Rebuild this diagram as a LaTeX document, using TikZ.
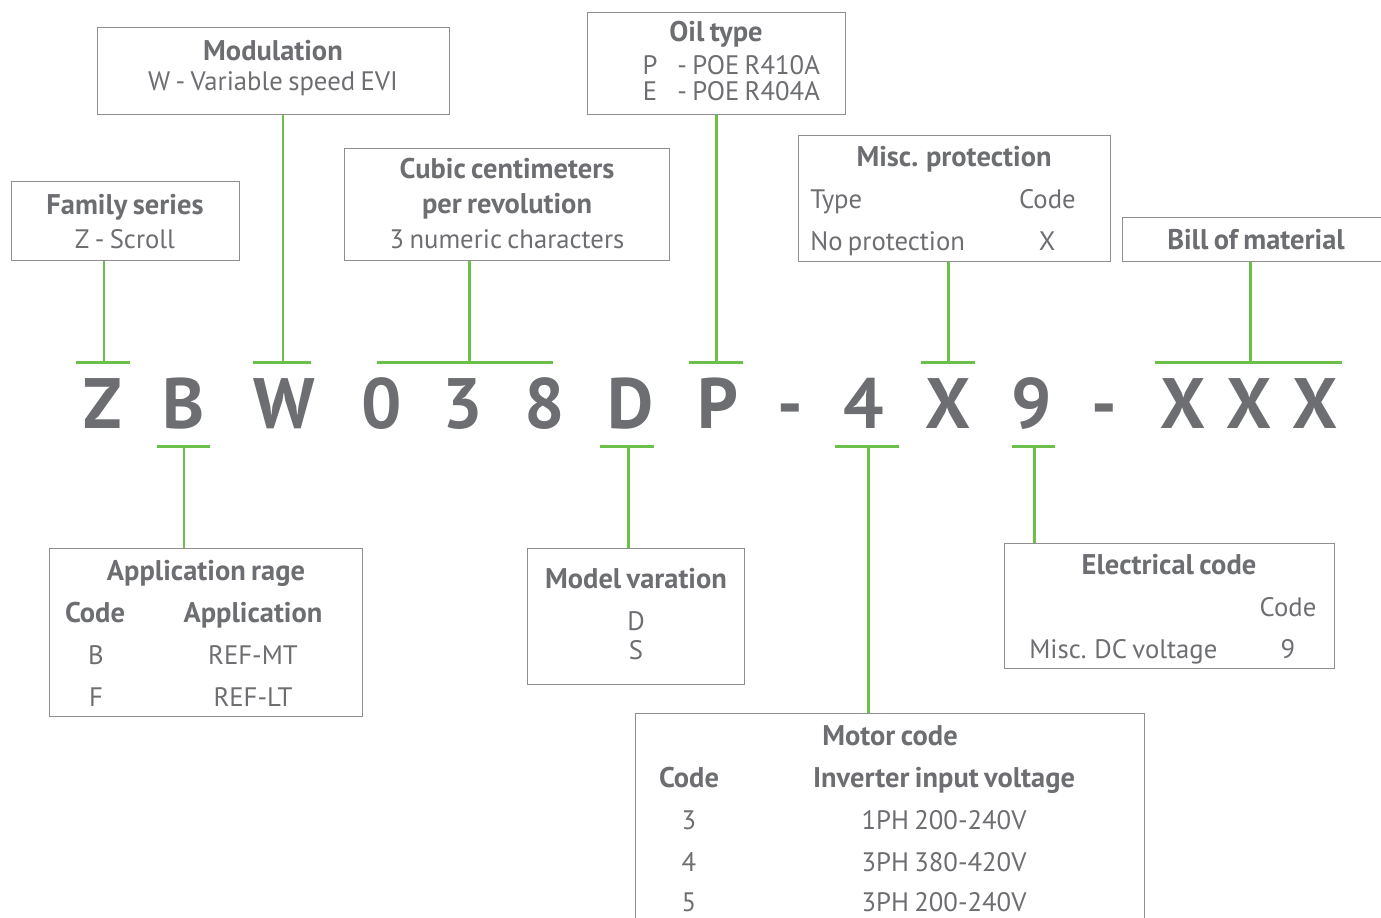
\documentclass[tikz,border=0pt]{standalone}
\usepackage{fontspec}
\setmainfont{PT Sans}[WordSpace=0.75]
\definecolor{txtgray}{HTML}{6D6E71}
\definecolor{lgreen}{HTML}{6CC04A}
\definecolor{boxgray}{HTML}{8E8E8E}
\newcommand{\hd}{\fontsize{16.2}{18}\bfseries\selectfont}
\newcommand{\rg}{\fontsize{15.2}{17}\selectfont}
\begin{document}
\begin{tikzpicture}[x=0.02cm,y=-0.02cm,font=\rg,text=txtgray]
	\tikzset{box/.style={draw=boxgray,line width=0.8pt,anchor=north west,inner sep=0pt},
		link/.style={draw=lgreen,line width=1.7pt},
		big/.style={font=\fontsize{40.6}{41}\bfseries\selectfont,anchor=base},
		head/.style={font=\hd,anchor=base,inner xsep=0pt},
		txt/.style={anchor=base,inner xsep=0pt}
	}
	\useasboundingbox (0,0) rectangle (1381,917);
	\clip (0,0) rectangle (1381,917);
	% code letters
	\foreach \nm/\x/\t in {cZ/103/Z,cB/184/B,cW/284/W,c0/382/0,c3/463/3,c8/545/8,cD/631/D,cP/718/P,
		dA/790/-,c4/864/4,cX/948/X,c9/1032/9,dB/1104/-,cXa/1183/X,cXb/1249/X,cXc/1315/X}
		\node[big] (\nm) at (\x,428) {\t};
	% boxes
	\foreach \nm/\x/\y/\w/\h in {fam/11/181/228/79,mod/97/27/352/87,cub/344/148/325/112,
		oil/587/12/258/102,misc/798/135/312/126,bom/1122/217/270/44,app/49/548/313/168,
		mdl/527/548/217/136,ele/1004/543/330/125,mot/635/713/509/220}
		\node[box,minimum width=\w*0.02cm,minimum height=\h*0.02cm] (\nm) at (\x,\y) {};
	% connectors
	\foreach \bx/\a/\b/\j in {fam/76/130/104,mod/253/311/283,cub/377/553/469,
		oil/689/743/716,misc/921/975/948,bom/1155/1342/1250}{
		\coordinate (j) at (\j,362);
		\draw[link] (\a,362) -- (\b,362) (j) -- (j |- \bx.south);
	}
	\foreach \bx/\a/\b/\j in {app/157/210/184,mdl/600/654/628,mot/835/899/868,ele/1012/1055/1034}{
		\coordinate (j) at (\j,446);
		\draw[link] (\a,446) -- (\b,446) (j) -- (j |- \bx.north);
	}
	% texts
	\node[head] (famT) at (125,214) {Family series};
	\node[txt] (famA) at (125,248) {Z - Scroll};
	\node[head] (modT) at (273,60) {Modulation};
	\node[txt] (modA) at (273,90) {W - Variable speed EVI};
	\node[head] (cubT) at (507,178) {Cubic centimeters};
	\node[head] (cubU) at (507,213) {per revolution};
	\node[txt] (cubA) at (507,248) {3 numeric characters};
	\node[head] (oilT) at (716,41) {Oil type};
	\node[txt] (oilP) at (650,74) {P};
	\node[txt,anchor=base west] (oilPa) at (677,74) {- POE R410A};
	\node[txt] (oilE) at (650,100) {E};
	\node[txt,anchor=base west] (oilEa) at (677,100) {- POE R404A};
	\node[head] (miscT) at (954,166) {Misc. protection};
	\node[txt,anchor=base west] (miscA) at (810,208) {Type};
	\node[txt,anchor=base east] (miscB) at (1076,208) {Code};
	\node[txt,anchor=base west] (miscC) at (810,250) {No protection};
	\node[txt] (miscD) at (1047,250) {X};
	\node[head] (bomT) at (1256,249) {Bill of material};
	\node[head] (appT) at (206,580) {Application rage};
	\node[head] (appA) at (95,622) {Code};
	\node[head] (appB) at (253,622) {Application};
	\node[txt] (appC) at (96,664) {B};
	\node[txt] (appD) at (253,664) {REF-MT};
	\node[txt] (appE) at (96,706) {F};
	\node[txt] (appF) at (253,706) {REF-LT};
	\node[head] (mdlT) at (636,588) {Model varation};
	\node[txt] (mdlA) at (636,630) {D};
	\node[txt] (mdlB) at (636,659) {S};
	\node[head] (eleT) at (1169,574) {Electrical code};
	\node[txt] (eleA) at (1288,616) {Code};
	\node[txt,anchor=base west] (eleB) at (1029,658) {Misc. DC voltage};
	\node[txt] (eleC) at (1288,658) {9};
	\node[head] (motT) at (890,745) {Motor code};
	\node[head] (motA) at (689,787) {Code};
	\node[head] (motB) at (944,787) {Inverter input voltage};
	\foreach \y/\c/\v in {829/3/1PH 200-240V,871/4/3PH 380-420V,911/5/3PH 200-240V}{
		\node[txt] (mc\c) at (689,\y) {\c};
		\node[txt] (mv\c) at (944,\y) {\v};
	}
\end{tikzpicture}
\end{document}
